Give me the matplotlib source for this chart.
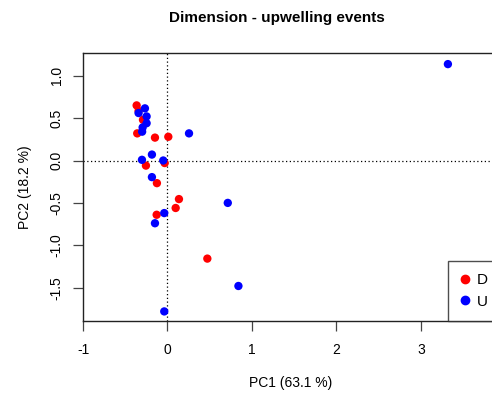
import matplotlib
matplotlib.use("Agg")
import matplotlib.pyplot as plt
from matplotlib.lines import Line2D

plt.rcParams['font.family'] = ['Liberation Sans', 'DejaVu Sans']

# Downwelling (red) scores
down_pc1 = [-0.365, -0.342, -0.29, -0.358, -0.148, 0.01, -0.033, -0.255, -0.125, 0.136, 0.097, -0.128, 0.472]
down_pc2 = [0.65, 0.585, 0.48, 0.32, 0.27, 0.28, -0.03, -0.06, -0.267, -0.455, -0.56, -0.64, -1.157]
# Upwelling (blue) scores
up_pc1 = [-0.267, -0.342, -0.247, -0.247, -0.294, -0.30, 0.255, -0.184, -0.302, -0.05, -0.184, 0.714, -0.038, -0.148, 0.84, -0.038, 3.32]
up_pc2 = [0.615, 0.56, 0.52, 0.44, 0.39, 0.34, 0.32, 0.07, 0.008, 0.0, -0.196, -0.5, -0.62, -0.74, -1.48, -1.78, 1.137]

title = "Dimension - upwelling events"
xlabel = "PC1 (63.1 %)"
ylabel = "PC2 (18.2 %)"
legend_labels = ["D", "U"]
xticks = [-1, 0, 1, 2, 3]
yticks = [-1.5, -1.0, -0.5, 0.0, 0.5, 1.0]

W, H = 492, 394
fig = plt.figure(figsize=(W / 100, H / 100), dpi=100)
left_px, right_px, top_px, bot_px = 83, 560, 53, 321
ax = fig.add_axes([left_px / W, 1 - bot_px / H, (right_px - left_px) / W, (bot_px - top_px) / H])

ax.scatter(down_pc1, down_pc2, s=36, color='#ff0000', edgecolors='none', zorder=3)
ax.scatter(up_pc1, up_pc2, s=36, color='#0000ff', edgecolors='none', zorder=3)
ax.axhline(0, color='black', linestyle=(0, (1, 2)), linewidth=0.9, zorder=1)
ax.axvline(0, color='black', linestyle=(0, (1, 2)), linewidth=0.9, zorder=1)

ax.set_xlim(-0.997, 4.647)
ax.set_ylim(-1.893, 1.268)
ax.set_xticks(xticks)
ax.set_xticklabels([str(t) for t in xticks])
ax.set_yticks(yticks)
ax.set_yticklabels([f"{t:.1f}" for t in yticks], rotation=90, va='center')
ax.tick_params(axis='x', length=7, width=0.9, color='#444444', labelsize=10, pad=9)
ax.tick_params(axis='y', length=7, width=0.9, color='#444444', labelsize=10, pad=7)
for s in ax.spines.values():
    s.set_color('#222222')
    s.set_linewidth(1.0)

fig.text(277 / W, 1 - 18 / H, title, ha='center', va='center', fontsize=11, fontweight='bold')
fig.text(291 / W, 1 - 383 / H, xlabel, ha='center', va='center', fontsize=10)
fig.text(25 / W, 1 - 187 / H, ylabel, ha='center', va='center', fontsize=10, rotation=90)

handles = [Line2D([], [], marker='o', linestyle='none', color='#ff0000', markersize=6),
           Line2D([], [], marker='o', linestyle='none', color='#0000ff', markersize=6)]
leg = fig.legend(handles, legend_labels, loc='lower left',
                 bbox_to_anchor=(448 / W, 1 - 321 / H), bbox_transform=fig.transFigure,
                 borderaxespad=0, frameon=True, fancybox=False, edgecolor='#222222',
                 fontsize=11, handletextpad=0.5, labelspacing=0.5, borderpad=0.8,
                 handlelength=0.6, handleheight=0.7)
leg.get_frame().set_linewidth(1.0)

fig.savefig("out.png", dpi=100)
